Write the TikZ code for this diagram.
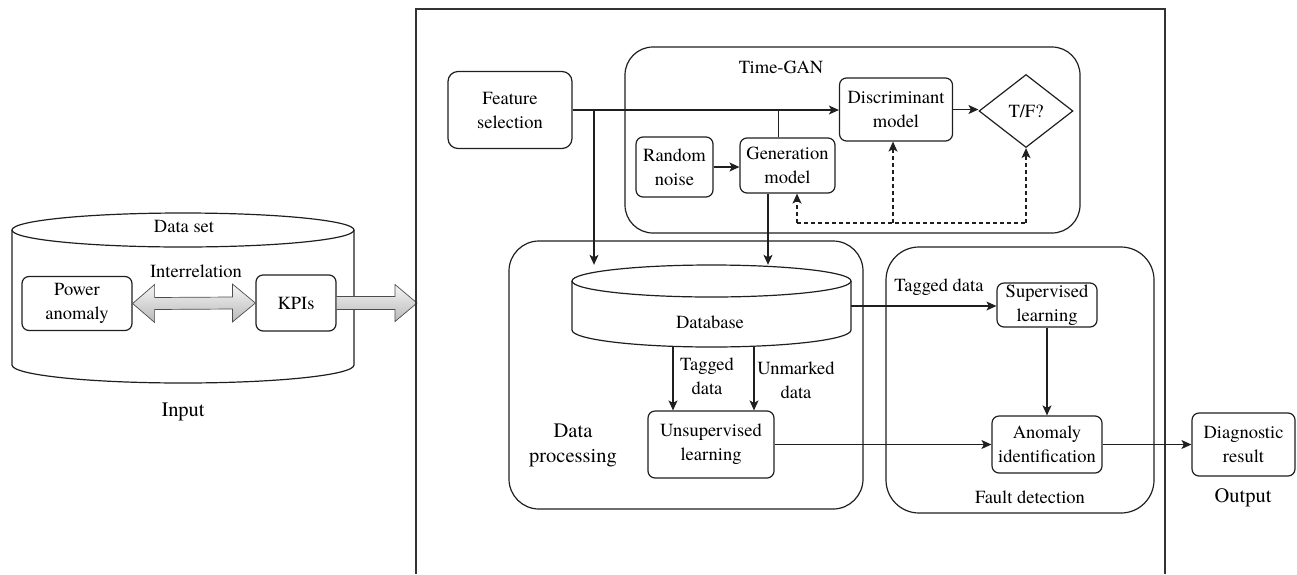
\documentclass[tikz,border=0pt]{standalone}
\usepackage{fontspec}
\setmainfont{texgyretermes}[Extension=.otf, UprightFont=*-regular, BoldFont=*-bold, ItalicFont=*-italic, BoldItalicFont=*-bolditalic]
\usetikzlibrary{arrows.meta,shapes.geometric,calc}
\begin{document}
\begin{tikzpicture}[x=1pt,y=1pt,
 every node/.style={font=\fontsize{18.5}{24}\selectfont, align=center},
 ln/.style={line width=1.2pt, draw=black!88},
 box/.style={draw=black!88, line width=1.2pt, rounded corners=7pt, inner sep=1pt},
 cont/.style={draw=black!88, line width=1.2pt, rounded corners=30pt, inner sep=0pt},
 arr/.style={ln, -{Stealth[length=10pt,width=9pt,inset=2.5pt]}},
 darr/.style={arr, dash pattern=on 4pt off 3pt},
 big/.style={font=\fontsize{20.5}{25}\selectfont},
 fat/.style={draw=gray!60!black, line width=0.7pt, top color=gray!8, bottom color=gray!55}
]
\useasboundingbox (0,0) rectangle (1297,-574);

% ---------- Input: data set cylinder ----------
\draw[ln] (12,-230) -- (12,-365) arc[start angle=180,end angle=360,x radius=171,y radius=18] -- (354,-230);
\draw[ln] (183,-230) ellipse[x radius=171, y radius=17];
\node (dslab) at (184,-226) {Data set};
\node[box, minimum width=110pt, minimum height=54pt] (pa) at (77,-303.5) {Power\\anomaly};
\node[box, minimum width=80pt, minimum height=56pt] (kpi) at (296,-303) {KPIs};
\node (inter) at (196,-271) {Interrelation};
\node[big] (input) at (183,-412) {Input};

\draw[fat] (pa.east) -- ++(22,19) -- ++(0,-13) -- ($(kpi.west)+(-23,6)$) -- ++(0,13) -- (kpi.west)
  -- ++(-23,-19) -- ++(0,13) -- ($(pa.east)+(22,-6)$) -- ++(0,-13) -- cycle;
\coordinate (fr) at (417,-303);
\draw[fat] ($(kpi.east)+(0,6.5)$) -- ($(fr)+(-22,6.5)$) -- ($(fr)+(-22,18.5)$) -- (fr)
  -- ($(fr)+(-22,-18.5)$) -- ($(fr)+(-22,-6.5)$) -- ($(kpi.east)+(0,-6.5)$) -- cycle;

% ---------- frame ----------
\draw[line width=1.3pt, draw=black!80] (416,-574) -- (416,-9) -- (1165,-9) -- (1165,-574);

% ---------- containers ----------
\node[cont, rounded corners=28pt, minimum width=455pt, minimum height=186pt] (tgan) at (852.5,-140) {};
\node[cont, minimum width=354pt, minimum height=268pt] (dp) at (686,-375) {};
\node[cont, rounded corners=33pt, minimum width=268pt, minimum height=266pt] (fd) at (1020,-380) {};

\node (tganlab) at (781,-67) {Time-GAN};
\node[big] (dplab) at (573,-445) {Data\\processing};
\node (fdlab) at (1030,-497) {Fault detection};
\node[big] (outlab) at (1243,-498) {Output};

% ---------- inner nodes ----------
\node[box, rounded corners=10pt, minimum width=124pt, minimum height=77pt] (fs) at (510,-110) {Feature\\selection};
\node[box, minimum width=113pt, minimum height=63pt] (disc) at (896,-109.5) {Discriminant\\model};
\node[draw=black!88, line width=1.2pt, diamond, aspect=1.29, inner sep=0pt, minimum width=94pt, minimum height=73pt] (tf) at (1026,-111) {T/F?};
\node[box, minimum width=77pt, minimum height=60pt] (rn) at (674.5,-167) {Random\\noise};
\node[box, minimum width=95pt, minimum height=55pt] (gen) at (787.5,-165.5) {Generation\\model};

\draw[ln] (572,-281) -- (572,-330) arc[start angle=180,end angle=360,x radius=139.5,y radius=17] -- (851,-281);
\draw[ln] (711.5,-281) ellipse[x radius=139.5,y radius=16];
\node[inner sep=0pt, minimum width=279pt, minimum height=82pt] (db) at (711.5,-306) {};
\node (dbt) at (710,-322) {Database};

\node[box, minimum width=126pt, minimum height=67pt] (us) at (711,-444.5) {Unsupervised\\learning};
\node[box, minimum width=100pt, minimum height=44pt] (sl) at (1047,-305) {Supervised\\learning};
\node[box, minimum width=110pt, minimum height=57pt] (ai) at (1047,-444.5) {Anomaly\\identification};
\node[box, minimum width=103pt, minimum height=63pt] (dr) at (1243.5,-444.5) {Diagnostic\\result};

\node (tg1) at (707,-376) {Tagged\\data};
\node (um) at (796,-380) {Unmarked\\data};
\node (tg2) at (939,-287) {Tagged data};

% ---------- connectors ----------
\coordinate (br) at (594,-110);
\draw[arr] (fs.east) -- (fs.east -| disc.west);
\draw[arr] (br) -- (br |- db.north);
\draw[ln] ([xshift=-9pt]gen.north) -- ([xshift=-9pt]gen.north |- fs.east);
\draw[arr] ([xshift=-19.5pt]gen.south) -- ([xshift=-19.5pt]gen.south |- db.north);
\draw[arr] (rn.east) -- (rn.east -| gen.west);
\draw[arr] (disc.east) -- (disc.east -| tf.west);

\coordinate (dl) at (797,-223);
\coordinate (drr) at (1026,-223);
\draw[darr] (dl) -- (dl |- gen.south);
\draw[ln, dash pattern=on 4pt off 3pt] (dl) -- (drr);
\draw[darr] (drr) -- (tf.south);
\draw[darr] ([xshift=-3pt]disc.south |- dl) -- ([xshift=-3pt]disc.south);

\draw[arr] ([xshift=-38.5pt]db.south) -- ([xshift=-38.5pt]db.south |- us.north);
\draw[arr] ([xshift=42.5pt]db.south) -- ([xshift=42.5pt]db.south |- us.north);
\draw[arr] (db.east) -- (db.east -| sl.west);
\draw[arr] (sl.south) -- (ai.north);
\draw[arr] (us.east) -- (us.east -| ai.west);
\draw[arr] (ai.east) -- (ai.east -| dr.west);
\end{tikzpicture}
\end{document}
